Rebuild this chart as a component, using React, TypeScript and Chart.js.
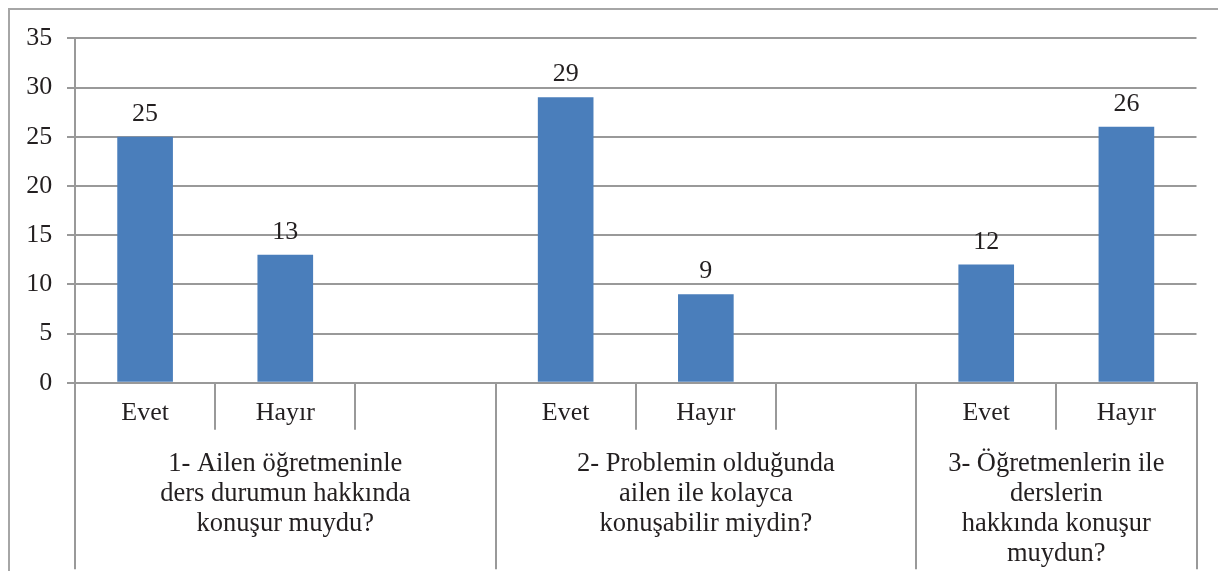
import React, { useEffect, useRef } from "react";
import { Chart, registerables } from "chart.js";

Chart.register(...registerables);

// ---- data ----
const categories = ["Evet", "Hayır", "", "Evet", "Hayır", "", "Evet", "Hayır"];
const values: (number | null)[] = [25, 13, null, 29, 9, null, 12, 26];
const groupLabels: string[][] = [
  ["1- Ailen öğretmeninle", "ders durumun hakkında", "konuşur muydu?"],
  ["2- Problemin olduğunda", "ailen ile kolayca", "konuşabilir miydin?"],
  ["3- Öğretmenlerin ile", "derslerin", "hakkında konuşur", "muydun?"],
];
const groupSpans = [3, 3, 2];
const yMin = 0;
const yMax = 35;
const yStep = 5;

// ---- styles ----
const FONT = '"Liberation Serif", "Times New Roman", serif';
const LINE = "#999999";
const FRAME = "#a6a6a6";
const TEXT = "#231f20";
const BAR = "#4a7ebb";

const decorations = {
  id: "decorations",
  afterDraw(chart: any) {
    const ctx = chart.ctx as CanvasRenderingContext2D;
    const x = chart.scales.x;
    const area = chart.chartArea;
    const step = x.getPixelForValue(1) - x.getPixelForValue(0);
    const boundary = (i: number) => x.getPixelForValue(i) - step / 2;
    ctx.save();
    // outer frame
    ctx.strokeStyle = FRAME;
    ctx.lineWidth = 2;
    ctx.beginPath();
    ctx.moveTo(1, chart.height);
    ctx.lineTo(1, 1);
    ctx.lineTo(chart.width - 1, 1);
    ctx.lineTo(chart.width - 1, chart.height);
    ctx.stroke();

    // group separators
    const bounds = [0];
    let acc = 0;
    groupSpans.forEach((s) => {
      acc += s;
      bounds.push(acc);
    });
    ctx.strokeStyle = LINE;
    bounds.forEach((b) => {
      const px = Math.round(boundary(b));
      ctx.beginPath();
      ctx.moveTo(px, area.bottom);
      ctx.lineTo(px, area.bottom + 186.6);
      ctx.stroke();
    });

    // group labels
    ctx.font = `26.5px ${FONT}`;
    ctx.fillStyle = TEXT;
    ctx.textAlign = "center";
    ctx.textBaseline = "alphabetic";
    groupLabels.forEach((lines, g) => {
      const cx = (boundary(bounds[g]) + boundary(bounds[g + 1])) / 2;
      lines.forEach((t, k) => ctx.fillText(t, cx, area.bottom + 88.5 + k * 30));
    });

    // value labels
    ctx.font = `26px ${FONT}`;
    const meta = chart.getDatasetMeta(0);
    meta.data.forEach((bar: any, i: number) => {
      const v = values[i];
      if (v == null) return;
      ctx.fillText(String(v), bar.x, bar.y - 16);
    });
    ctx.restore();
  },
};

export default function App() {
  const ref = useRef<HTMLCanvasElement>(null);
  useEffect(() => {
    const chart = new Chart(ref.current!, {
      type: "bar",
      data: {
        labels: categories,
        datasets: [
          {
            data: values,
            backgroundColor: BAR,
            borderWidth: 0,
            barPercentage: 0.397,
            categoryPercentage: 1,
          },
        ],
      },
      options: {
        animation: false,
        responsive: false,
        devicePixelRatio: 1,
        layout: { padding: { left: 0, right: 29.5, top: 29.5, bottom: 0 } },
        plugins: { legend: { display: false }, tooltip: { enabled: false } },
        scales: {
          x: {
            type: "category",
            offset: true,
            grid: {
              offset: true,
              drawOnChartArea: false,
              drawTicks: true,
              tickLength: 47,
              color: LINE,
              lineWidth: 2,
            },
            border: { display: true, color: LINE, width: 2 },
            ticks: {
              font: { family: FONT, size: 26, lineHeight: 1.2 },
              color: TEXT,
              padding: -32.3,
              maxRotation: 0,
              minRotation: 0,
              autoSkip: false,
            },
            afterFit: (s: any) => {
              s.height = 196.3;
            },
          },
          y: {
            min: yMin,
            max: yMax,
            ticks: {
              stepSize: yStep,
              font: { family: FONT, size: 26, lineHeight: 1.2 },
              color: TEXT,
              padding: 14.7,
            },
            grid: { color: LINE, lineWidth: 2, tickLength: 8, drawTicks: true },
            border: { display: true, color: LINE, width: 2 },
            afterFit: (s: any) => {
              s.width = 67;
            },
          },
        },
      },
      plugins: [decorations],
    } as any);
    return () => chart.destroy();
  }, []);
  return (
    <canvas
      ref={ref}
      width={1218}
      height={571}
      style={{ display: "block", marginBottom: -8 }}
    />
  );
}
